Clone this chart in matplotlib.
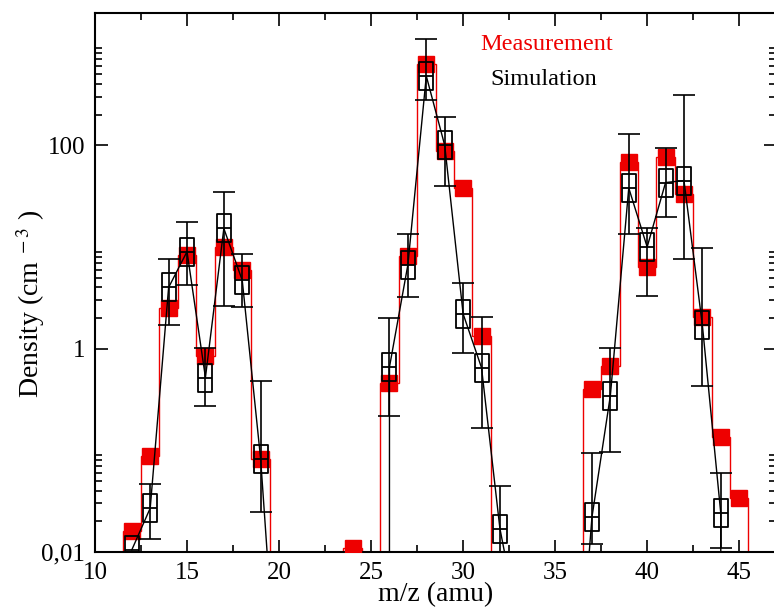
import numpy as np
import matplotlib.pyplot as plt
from matplotlib.path import Path
from matplotlib.ticker import FixedLocator, NullFormatter, MultipleLocator

plt.rcParams['font.family'] = ['Liberation Serif', 'DejaVu Serif']
plt.rcParams['mathtext.fontset'] = 'stix'

# m/z channels 12..45 (0 = nothing visible on the plot)
mz = np.arange(12, 46)

meas = [0.016, 0.088, 2.5, 8.4, 0.85, 9.9, 5.9, 0.082,
        0, 0, 0, 0, 0.011, 0,
        0.46, 8.1, 630, 87, 38, 1.34,
        0, 0, 0, 0, 0,
        0.40, 0.68, 69, 6.3, 76, 33, 2.07, 0.135, 0.034]

sim = [0.0105, 0.027, 4.0, 9.0, 0.52, 15.2, 4.7, 0.082,
       0.0002, 0, 0, 0, 0, 0,
       0.66, 6.7, 480, 100, 2.2, 0.65, 0.017, 0.002,
       0, 0, 0.0001,
       0.022, 0.345, 38, 10, 43, 45, 1.7, 0.024, 0]

nan = np.nan
sim_lo = [nan, 0.0135, 1.72, 4.2, 0.27, 2.65, 2.54, 0.025,
          nan, nan, nan, nan, nan, nan,
          0.22, 3.2, 280, 40, 0.91, 0.166, 0.0101, nan,
          nan, nan, nan,
          0.012, 0.097, 13.5, 3.3, 19.5, 7.7, 0.43, 0.011, nan]
sim_hi = [nan, 0.047, 7.7, 17.8, 1.02, 34.4, 8.6, 0.48,
          nan, nan, nan, nan, nan, nan,
          2.0, 13.5, 1100, 190, 4.4, 2.07, 0.045, nan,
          nan, nan, nan,
          0.095, 1.02, 130, 15.5, 95, 310, 9.7, 0.06, nan]

meas = np.array(meas, dtype=float)
sim = np.array(sim, dtype=float)
sim_lo = np.array(sim_lo, dtype=float)
sim_hi = np.array(sim_hi, dtype=float)

# two stacked squares, as the simulation symbol looks in the original
stack = Path([(-0.5, -1), (0.5, -1), (0.5, 1), (-0.5, 1), (-0.5, -1),
              (-0.5, 0), (0.5, 0)],
             [Path.MOVETO, Path.LINETO, Path.LINETO, Path.LINETO, Path.CLOSEPOLY,
              Path.MOVETO, Path.LINETO])

fig = plt.figure(figsize=(7.74, 6.08), dpi=100)
ax = fig.add_axes([95/774, 56/608, 681/774, 539/608])
ax.set_yscale('log', nonpositive='clip')

red = '#ee0000'

# measurement: red histogram steps + filled squares
edges = np.append(mz - 0.5, mz[-1] + 0.5)
ax.stairs(meas, edges, color=red, lw=1.0, baseline=0)
m = meas > 0
ax.plot(mz[m], meas[m], 's', ms=12, color=red, mec=red, zorder=3)

# simulation: black line, hollow squares, error bars
ax.plot(mz, sim, '-', color='black', lw=1.0, zorder=4)
s = sim > 0.005
err = np.vstack([sim - sim_lo, sim_hi - sim])
ax.errorbar(mz[s], sim[s], yerr=err[:, s], fmt='none', ecolor='black',
            elinewidth=1.2, capsize=8, capthick=1.2, zorder=5)
ax.plot(mz[s], sim[s], ls='none', marker=stack, ms=20, mfc='none',
        mec='black', mew=1.3, zorder=6)

ax.set_xlim(10, 47)
ax.set_ylim(0.01, 2000)

ax.xaxis.set_major_locator(MultipleLocator(5))
ax.xaxis.set_minor_locator(MultipleLocator(2.5))
ax.yaxis.set_major_locator(FixedLocator([0.01, 1, 100]))
ax.set_yticklabels(['0,01', '1', '100'])
minors = [k * d for d in (0.01, 1, 100) for k in range(2, 10)]
ax.yaxis.set_minor_locator(FixedLocator(minors))
ax.yaxis.set_minor_formatter(NullFormatter())

ax.tick_params(which='both', direction='in', top=True, right=True, width=1.2)
ax.tick_params(which='major', length=9, labelsize=18, pad=7)
ax.tick_params(which='minor', length=5)
for sp in ax.spines.values():
    sp.set_linewidth(1.5)

ax.set_xlabel('m/z (amu)', fontsize=20, labelpad=-1)
ax.set_ylabel(r'Density (cm$^{\ -3}$ )', fontsize=20)
ax.yaxis.set_label_coords(-0.07, 0.46)

ax.text(0.566, 0.932, 'Measurement', color=red, fontsize=17.5, transform=ax.transAxes)
ax.text(0.58, 0.867, 'Simulation', color='black', fontsize=17.5, transform=ax.transAxes)

fig.savefig('out.png', dpi=100)
